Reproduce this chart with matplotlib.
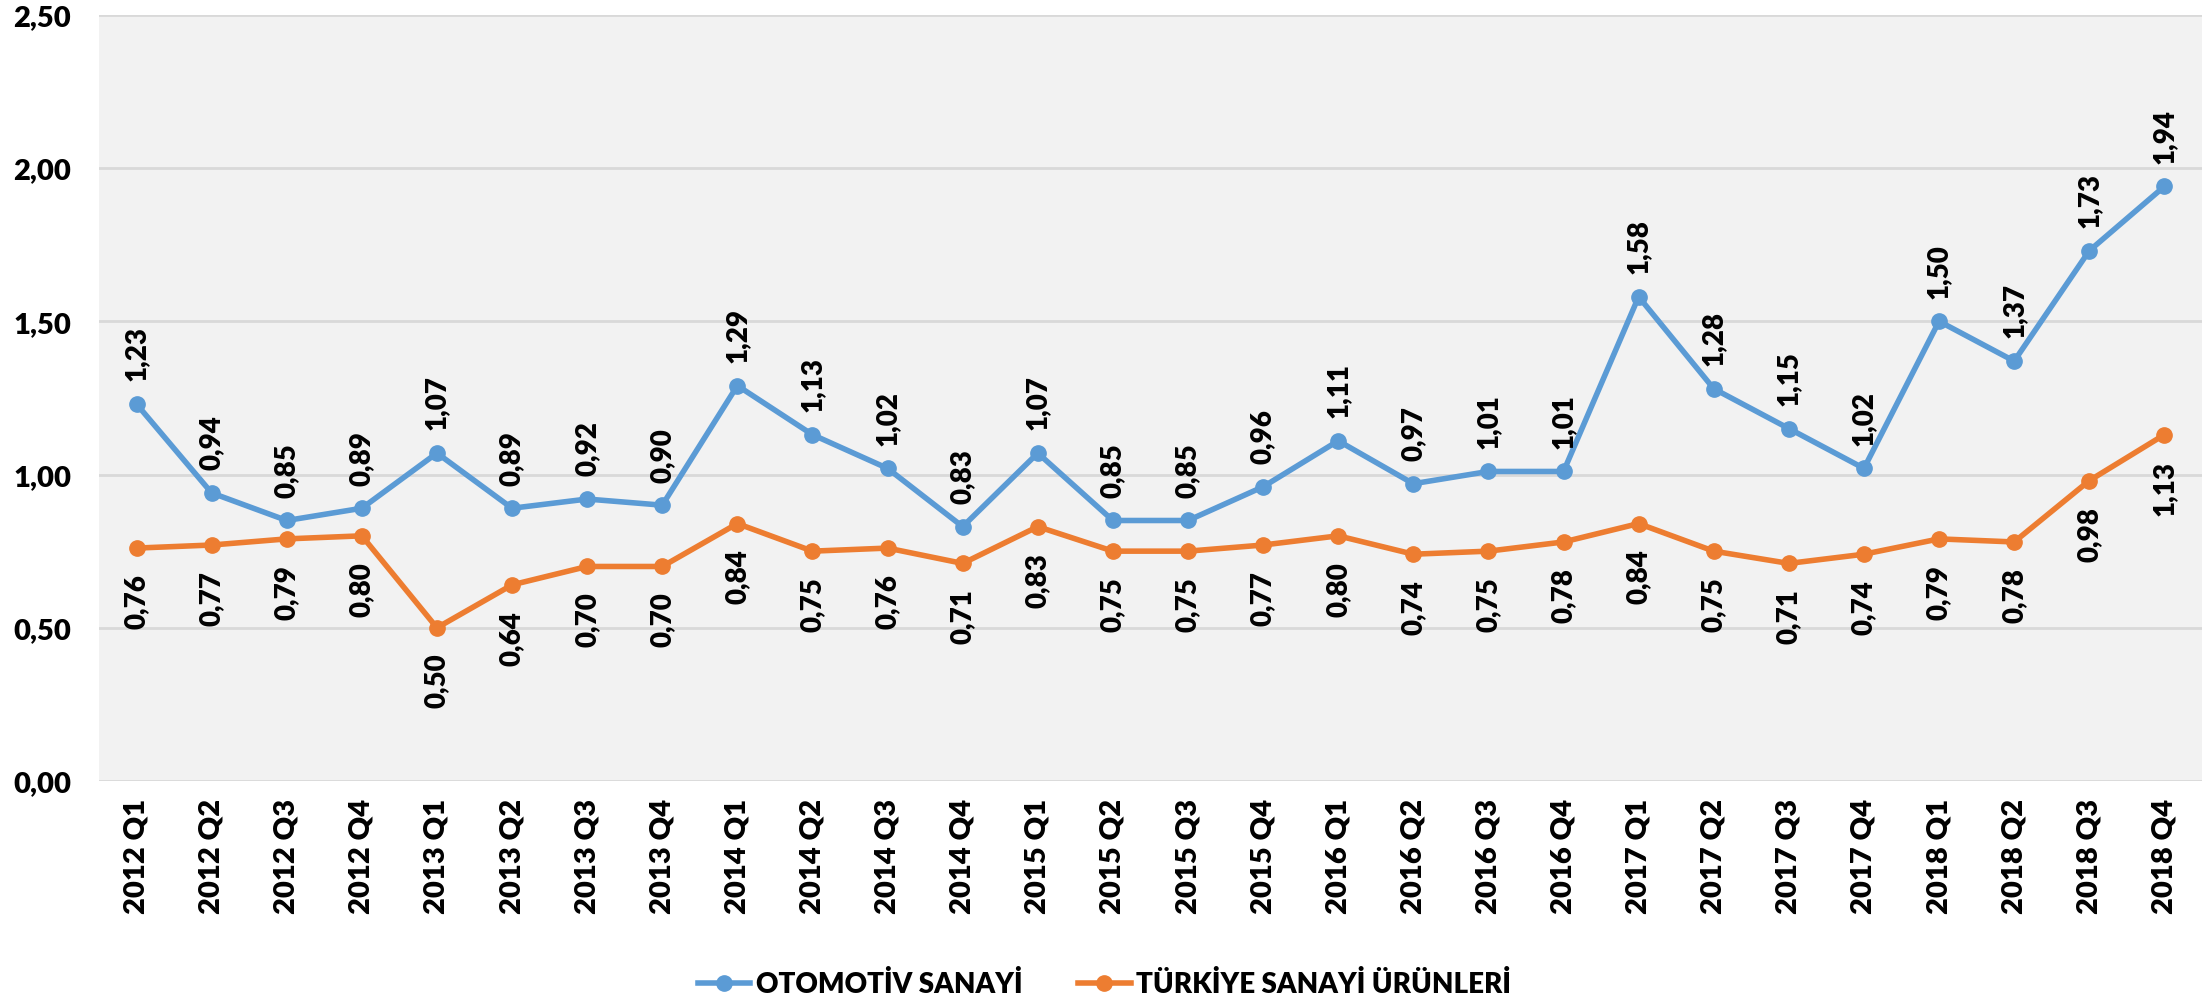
import matplotlib.pyplot as plt
import numpy as np

quarters = ["2012 Q1", "2012 Q2", "2012 Q3", "2012 Q4",
            "2013 Q1", "2013 Q2", "2013 Q3", "2013 Q4",
            "2014 Q1", "2014 Q2", "2014 Q3", "2014 Q4",
            "2015 Q1", "2015 Q2", "2015 Q3", "2015 Q4",
            "2016 Q1", "2016 Q2", "2016 Q3", "2016 Q4",
            "2017 Q1", "2017 Q2", "2017 Q3", "2017 Q4",
            "2018 Q1", "2018 Q2", "2018 Q3", "2018 Q4"]

otomotiv = [1.23, 0.94, 0.85, 0.89, 1.07, 0.89, 0.92, 0.90,
            1.29, 1.13, 1.02, 0.83, 1.07, 0.85, 0.85, 0.96,
            1.11, 0.97, 1.01, 1.01, 1.58, 1.28, 1.15, 1.02,
            1.50, 1.37, 1.73, 1.94]

turkiye = [0.76, 0.77, 0.79, 0.80, 0.50, 0.64, 0.70, 0.70,
           0.84, 0.75, 0.76, 0.71, 0.83, 0.75, 0.75, 0.77,
           0.80, 0.74, 0.75, 0.78, 0.84, 0.75, 0.71, 0.74,
           0.79, 0.78, 0.98, 1.13]

y_ticks = [0.0, 0.5, 1.0, 1.5, 2.0, 2.5]

plt.rcParams['font.family'] = ['Lato', 'DejaVu Sans']
plt.rcParams['font.weight'] = 'heavy'

blue = "#5B9BD5"
orange = "#ED7D31"


def fmt(v):
    return "{:.2f}".format(v).replace(".", ",")


fig = plt.figure(figsize=(22.09, 10.03), dpi=100)
ax = fig.add_axes([0.0448, 0.2203, 0.952, 0.764])
ax.set_facecolor("#F2F2F2")

x = np.arange(len(quarters))
ax.plot(x, otomotiv, color=blue, lw=4, marker="o", ms=11, label="OTOMOTİV SANAYİ")
ax.plot(x, turkiye, color=orange, lw=4, marker="o", ms=11, label="TÜRKİYE SANAYİ ÜRÜNLERİ")

for i, v in enumerate(otomotiv):
    ax.annotate(fmt(v), (i, v), xytext=(0, 17), textcoords="offset points",
                rotation=90, ha="center", va="bottom", fontsize=20)
for i, v in enumerate(turkiye):
    ax.annotate(fmt(v), (i, v), xytext=(0, -18), textcoords="offset points",
                rotation=90, ha="center", va="top", fontsize=20)

ax.set_xlim(-0.5, len(quarters) - 0.5)
ax.set_ylim(0, 2.5)
ax.set_yticks(y_ticks)
ax.set_yticklabels([fmt(t) for t in y_ticks], fontsize=21)
ax.set_xticks(x)
ax.set_xticklabels(quarters, rotation=90, fontsize=21)
ax.tick_params(axis="y", length=0, pad=20)
ax.tick_params(axis="x", length=0, pad=12)
ax.grid(axis="y", color="#D9D9D9", lw=2)
ax.set_axisbelow(True)
for s in ax.spines.values():
    s.set_visible(False)

fig.legend(loc="center", bbox_to_anchor=(0.5, 0.018), ncol=2, frameon=False,
           handlelength=1.9, handletextpad=0.2, columnspacing=2.0,
           prop={"weight": "heavy", "size": 20})

fig.savefig("out.png", dpi=100)
